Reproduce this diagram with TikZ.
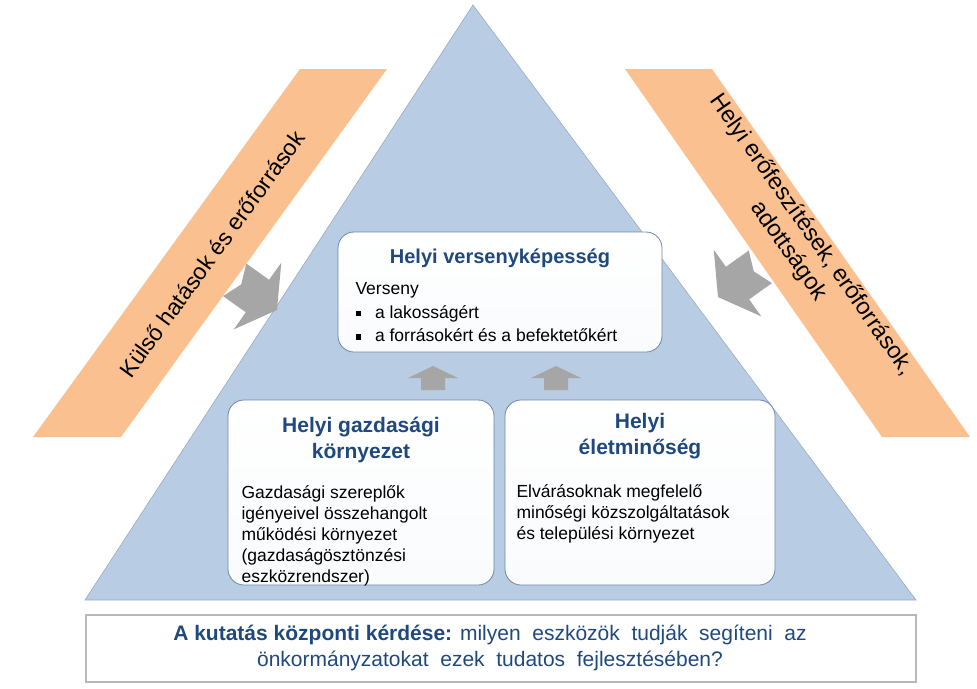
\documentclass[tikz,border=0pt]{standalone}
\usepackage{fontspec}
\setmainfont{Liberation Sans}
\definecolor{tri}{RGB}{184,204,228}
\definecolor{org}{RGB}{250,192,143}
\definecolor{ttl}{RGB}{31,73,125}
\definecolor{arr}{RGB}{166,166,166}
\definecolor{bxd}{RGB}{110,135,170}
\begin{document}
\begin{tikzpicture}[x=1pt,y=-1pt,
 box/.style={draw=bxd,line width=0.8pt,rounded corners=16pt,top color=white,bottom color=white!92!tri},
 ttlf/.style={font=\fontsize{21}{26}\selectfont\bfseries,text=ttl,align=center},
 bodyf/.style={font=\fontsize{17.5}{21}\selectfont,align=left,anchor=north west},
 arrow/.style={fill=arr}]
\useasboundingbox (0,0) rectangle (977,688);
% bands
\fill[org] (33,437) -- (121,437) -- (387,69) -- (300,69) -- cycle;
\fill[org] (625,69) -- (712,69) -- (970,437) -- (882,437) -- cycle;
\node[rotate=54,font=\fontsize{23}{28}\selectfont] (lt) at (212,254) {Külső hatások és erőforrások};
\node[rotate=-55,font=\fontsize{23.5}{28}\selectfont,align=center] (rt) at (800,243) {Helyi erőfeszítések, erőforrások,\\adottságok};
% triangle
\draw[fill=tri,draw=bxd!70,line width=0.6pt] (473,5) -- (916,600) -- (85,600) -- cycle;
% side arrows
\fill[arrow,shift={(277,310)},rotate=-35.5] (0,0) -- (-24,-41) -- (-24,-20) -- (-52,-20) -- (-44,0) -- (-52,20) -- (-24,20) -- (-24,41) -- cycle;
\fill[arrow,shift={(718,297)},rotate=35.5] (0,0) -- (24,-41) -- (24,-20) -- (52,-20) -- (44,0) -- (52,20) -- (24,20) -- (24,41) -- cycle;
% up arrows
\foreach \x/\n in {433/ua,556/ub}{
 \fill[arrow] (\x,366) -- (\x+25,378) -- (\x+12,378) -- (\x+12,390) -- (\x-12,390) -- (\x-12,378) -- (\x-25,378) -- cycle;}
% boxes
\draw[box] (338,232) rectangle (662,352);
\node[ttlf,font=\fontsize{20}{24}\selectfont\bfseries] (t1) at (500,258) {Helyi versenyképesség};
\node[bodyf,font=\fontsize{17.5}{23.5}\selectfont] (b1) at (352,279) {Verseny\\\rule[2pt]{5.5pt}{5.5pt}\hspace{14pt}a lakosságért\\\rule[2pt]{5.5pt}{5.5pt}\hspace{14pt}a forrásokért és a befektetőkért};
\draw[box] (228,400) rectangle (494,585);
\node[ttlf] (t2) at (361,440) {Helyi gazdasági\\környezet};
\node[bodyf] (b2) at (238,482) {Gazdasági szereplők\\igényeivel összehangolt\\működési környezet\\(gazdaságösztönzési\\eszközrendszer)};
\draw[box] (505,400) rectangle (775,585);
\node[ttlf] (t3) at (640,436) {Helyi\\életminőség};
\node[bodyf] (b3) at (513,481) {Elvárásoknak megfelelő\\minőségi közszolgáltatások\\és települési környezet};
% bottom box
\draw[draw=arr!80,line width=2pt,fill=white] (86,615) rectangle (916,682);
\node[font=\fontsize{21}{26}\selectfont,text=ttl,align=center] (q) at (490,648) {\textbf{A kutatás központi kérdése:} milyen\ \ eszközök\ \ tudják\ \ segíteni\ \ az\\önkormányzatokat\ \ ezek\ \ tudatos\ \ fejlesztésében?};
\end{tikzpicture}
\end{document}
